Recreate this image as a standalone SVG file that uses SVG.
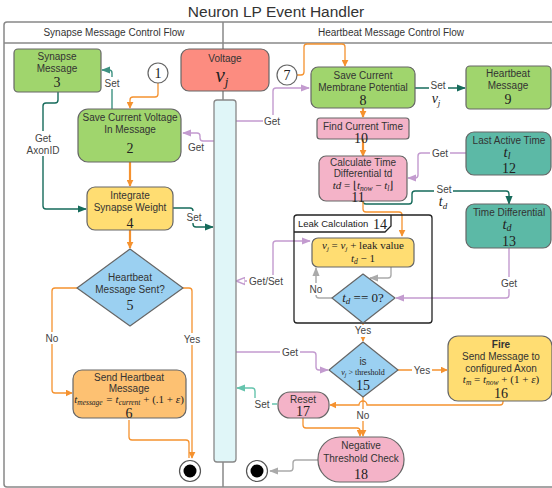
<svg xmlns="http://www.w3.org/2000/svg" width="552" height="488" viewBox="0 0 552 488">
<style>
.t{font-family:"Liberation Sans",Arial,sans-serif;font-size:10px;fill:#333;text-anchor:middle}
.m{font-family:"Liberation Serif","Times New Roman",serif;font-style:italic;fill:#222;text-anchor:middle}
.n{font-family:"Liberation Serif","Times New Roman",serif;font-size:14px;fill:#222;text-anchor:middle}
.lbl{font-family:"Liberation Sans",Arial,sans-serif;font-size:10px;fill:#444;text-anchor:middle}
.box{stroke:#666;stroke-width:1.2}
.o{fill:none;stroke:#f5922f;stroke-width:1.3}
.ot{fill:none;stroke:#f5922f;stroke-width:2.2}
.p{fill:none;stroke:#c39bcf;stroke-width:1.4}
.dt{fill:none;stroke:#166b5b;stroke-width:1.4}
.mt{fill:none;stroke:#3e9282;stroke-width:1.4}
.lt{fill:none;stroke:#66c4ad;stroke-width:1.4}
.g{fill:none;stroke:#aaa;stroke-width:1.4}
.bg{fill:#fff}
</style>
<defs>
<marker id="ao" viewBox="0 0 10 10" refX="9" refY="5" markerWidth="7" markerHeight="7" orient="auto-start-reverse" markerUnits="userSpaceOnUse"><path d="M0,0 L10,5 L0,10 z" fill="#f5922f"/></marker>
<marker id="ap" viewBox="0 0 10 10" refX="9" refY="5" markerWidth="9" markerHeight="9" orient="auto-start-reverse" markerUnits="userSpaceOnUse"><path d="M0,1 L10,5 L0,9 z" fill="#c39bcf"/></marker>
<marker id="aph" viewBox="0 0 10 10" refX="9" refY="5" markerWidth="9" markerHeight="9" orient="auto-start-reverse" markerUnits="userSpaceOnUse"><path d="M0,1 L10,5 L0,9 z" fill="#fff" stroke="#c39bcf" stroke-width="1.5"/></marker>
<marker id="adt" viewBox="0 0 10 10" refX="9" refY="5" markerWidth="9" markerHeight="9" orient="auto-start-reverse" markerUnits="userSpaceOnUse"><path d="M0,1 L10,5 L0,9 z" fill="#166b5b"/></marker>
<marker id="amt" viewBox="0 0 10 10" refX="9" refY="5" markerWidth="9" markerHeight="9" orient="auto-start-reverse" markerUnits="userSpaceOnUse"><path d="M0,1 L10,5 L0,9 z" fill="#3e9282"/></marker>
<marker id="alt" viewBox="0 0 10 10" refX="9" refY="5" markerWidth="9" markerHeight="9" orient="auto-start-reverse" markerUnits="userSpaceOnUse"><path d="M0,1 L10,5 L0,9 z" fill="#66c4ad"/></marker>
<marker id="ag" viewBox="0 0 10 10" refX="9" refY="5" markerWidth="9" markerHeight="9" orient="auto-start-reverse" markerUnits="userSpaceOnUse"><path d="M0,1 L10,5 L0,9 z" fill="#aaa"/></marker>
</defs>
<rect width="552" height="488" fill="#fff"/>
<text x="276" y="17" style="font-family:'Liberation Sans',Arial,sans-serif;font-size:15.5px;fill:#333;text-anchor:middle">Neuron LP Event Handler</text>
<g id="lanes" fill="none" stroke="#888" stroke-width="1.5">
<rect x="4" y="22" width="560" height="465" rx="3"/>
<line x1="4" y1="43" x2="552" y2="43"/>
<line x1="223" y1="22" x2="223" y2="487"/>
</g>
<text class="t" x="114" y="36">Synapse Message Control Flow</text>
<text class="t" x="391" y="36">Heartbeat Message Control Flow</text>

<g id="connectors">
<path class="dt" d="M58,92 V100 Q58,103 55,103 H46 Q43,103 43,106 V206 Q43,209 46,209 H86" marker-end="url(#adt)"/>
<rect class="bg" x="24" y="131" width="38" height="25"/>
<text class="lbl" x="43" y="142">Get</text>
<text class="lbl" x="43" y="154">AxonID</text>
<path class="mt" d="M112,109 V73 Q112,70 109,70 H102" marker-end="url(#amt)"/>
<rect class="bg" x="103" y="77" width="18" height="12"/>
<text class="lbl" x="112" y="87">Set</text>
<path class="o" d="M158,83 V94 Q158,97 155,97 H133 Q130,97 130,100 V108" marker-end="url(#ao)"/>
<path class="ot" d="M130,162 V186" marker-end="url(#ao)"/>
<path class="ot" d="M130,230 V248" marker-end="url(#ao)"/>
<path class="dt" d="M173,208 H190 Q193,208 193,211 V224 Q193,227 196,227 H213" marker-end="url(#adt)"/>
<rect class="bg" x="185" y="211" width="18" height="12"/>
<text class="lbl" x="194" y="221">Set</text>
<path class="p" d="M214,141 H203 Q200,141 200,138 V136 Q200,133 197,133 H183" marker-end="url(#ap)"/>
<text class="lbl" x="196" y="151">Get</text>
<path class="o" d="M77,288 H55 Q52,288 52,291 V390 Q52,393 55,393 H72" marker-end="url(#ao)"/>
<rect class="bg" x="44" y="332" width="16" height="12"/>
<text class="lbl" x="52" y="342">No</text>
<path class="o" d="M183,288 H189 Q192,288 192,291 V458" marker-end="url(#ao)"/>
<rect class="bg" x="183" y="333" width="18" height="12"/>
<text class="lbl" x="192" y="343">Yes</text>
<path class="o" d="M129,420 V437 Q129,440 132,440 H186 Q189,440 189,443 V458"/>
<path class="p" d="M236,121 H270 Q273,121 273,118 V91 Q273,88 276,88 H309" marker-end="url(#ap)"/>
<rect class="bg" x="263" y="115" width="20" height="12"/>
<text class="lbl" x="272" y="125">Get</text>
<path class="p" d="M237,281 H270 Q273,281 273,278 V244 Q273,241 276,241 H310" marker-start="url(#aph)" marker-end="url(#ap)"/>
<rect class="bg" x="247" y="275" width="38" height="12"/>
<text class="lbl" x="266" y="285">Get/Set</text>
<path class="p" d="M236,352 H313 Q316,352 316,355 V367 Q316,370 319,370 H328" marker-end="url(#ap)"/>
<rect class="bg" x="280" y="346" width="20" height="12"/>
<text class="lbl" x="290" y="356">Get</text>
<path class="lt" d="M277,404 H258 Q255,404 255,401 V391 Q255,388 252,388 H237" marker-end="url(#alt)"/>
<rect class="bg" x="252" y="398" width="20" height="12"/>
<text class="lbl" x="262" y="408">Set</text>
<path class="o" d="M297,75 H301 Q304,75 304,72 V47 Q304,44 307,44 H342 Q345,44 345,47 V66" marker-end="url(#ao)"/>
<path class="dt" d="M415,88 H465" marker-end="url(#adt)"/>
<rect class="bg" x="429" y="81" width="19" height="10"/>
<text class="lbl" x="438" y="89">Set</text>
<text class="m" x="436" y="103" font-size="14">v<tspan font-size="9" dy="3">j</tspan></text>
<path class="ot" d="M363,108 V117" marker-end="url(#ao)"/>
<path class="ot" d="M363,139 V156" marker-end="url(#ao)"/>
<path class="p" d="M466,153 H421 Q418,153 418,156 V175 Q418,178 415,178 H408" marker-end="url(#ap)"/>
<rect class="bg" x="430" y="147" width="20" height="12"/>
<text class="lbl" x="440" y="157">Get</text>
<path class="dt" d="M363,201 V201 Q363,204 366,204 H409 Q412,204 412,201 V194 Q412,191 415,191 H506 Q509,191 509,194 V204" marker-end="url(#adt)"/>
<rect class="bg" x="434" y="185" width="19" height="10"/>
<text class="lbl" x="444" y="193">Set</text>
<text class="m" x="443" y="206" font-size="14">t<tspan font-size="9" dy="3">d</tspan></text>
<path class="o" d="M363,201 V209 Q363,212 366,212 H399 Q402,212 402,215 V236" marker-end="url(#ao)"/>
<path class="p" d="M509,248 V295 Q509,298 506,298 H396" marker-end="url(#ap)"/>
<rect class="bg" x="499" y="277" width="20" height="12"/>
<text class="lbl" x="509" y="287">Get</text>
<path class="g" d="M391,267 V275 Q391,278 388,278 H370" marker-end="url(#ag)"/>
<path class="g" d="M332,298 H319 Q316,298 316,295 V268" marker-end="url(#ag)"/>
<rect class="bg" x="307" y="283" width="18" height="12"/>
<text class="lbl" x="316" y="293">No</text>
<path class="o" d="M363,323 V341" marker-end="url(#ao)"/>
<rect class="bg" x="353" y="325" width="20" height="12"/>
<text class="lbl" x="363" y="334">Yes</text>
<path class="o" d="M398,370 H447" marker-end="url(#ao)"/>
<rect class="bg" x="412" y="364" width="20" height="12"/>
<text class="lbl" x="422" y="374">Yes</text>
<path class="o" d="M503,401 V402 Q503,405 500,405 H367 A4,4 0 0 0 359,405 H330" marker-end="url(#ao)"/>
<path class="o" d="M363,397 V436" marker-end="url(#ao)"/>
<rect class="bg" x="354" y="409" width="18" height="12"/>
<text class="lbl" x="363" y="419">No</text>
<path class="o" d="M303,418 V425 Q303,428 306,428 H357 Q360,428 360,431 V436" marker-end="url(#ao)"/>
<path class="g" d="M318,460 H296 Q293,460 293,463 V468 Q293,471 290,471 H270" marker-end="url(#ag)"/>
</g>

<g id="bar"><rect x="214" y="100" width="22" height="362" rx="3" fill="#e0f6f8" stroke="#888" stroke-width="1.3"/></g>

<g id="voltage">
<rect class="box" x="181" y="49" width="88" height="42" rx="8" fill="#fc8c80"/>
<text class="t" x="225" y="62">Voltage</text>
<text class="m" x="222" y="82" font-size="21">v<tspan font-size="13" dy="4">j</tspan></text>
</g>
<g id="n3">
<rect class="box" x="14" y="49" width="87" height="43" rx="4" fill="#a0d56d"/>
<text class="t" x="57" y="60">Synapse</text>
<text class="t" x="57" y="72">Message</text>
<text class="n" x="57" y="87">3</text>
</g>
<g id="c1"><circle cx="158" cy="73" r="10" fill="#fff" stroke="#666" stroke-width="1.2"/><text class="n" x="158" y="78">1</text></g>
<g id="n2">
<rect class="box" x="78" y="109" width="103" height="53" rx="10" fill="#a0d56d"/>
<text class="t" x="130" y="121">Save Current Voltage</text>
<text class="t" x="130" y="133">In Message</text>
<text class="n" x="130" y="153">2</text>
</g>
<g id="n4">
<rect class="box" x="87" y="187" width="86" height="43" rx="8" fill="#ffdd72"/>
<text class="t" x="130" y="199">Integrate</text>
<text class="t" x="130" y="211">Synapse Weight</text>
<text class="n" x="130" y="228">4</text>
</g>
<g id="n5">
<path class="box" d="M130,249 L183,288 L130,326 L77,288 Z" fill="#9bd0f1" stroke-linejoin="round"/>
<text class="t" x="130" y="281">Heartbeat</text>
<text class="t" x="130" y="293">Message Sent?</text>
<text class="n" x="130" y="310">5</text>
</g>
<g id="n6">
<rect class="box" x="73" y="370" width="113" height="48" rx="9" fill="#fdc172"/>
<text class="t" x="129" y="381">Send Heartbeat</text>
<text class="t" x="129" y="392">Message</text>
<text class="m" x="129" y="403" font-size="11">t<tspan font-size="7.5" dy="1.5">message</tspan><tspan dy="-1.5"> = t</tspan><tspan font-size="7.5" dy="1.5">current</tspan><tspan dy="-1.5" font-style="normal"> + (.1 + </tspan>ε<tspan font-style="normal">)</tspan></text>
<text class="n" x="129" y="418">6</text>
</g>
<g id="end1"><circle cx="190" cy="471" r="10.5" fill="#fff" stroke="#555" stroke-width="1.2"/><circle cx="190" cy="471" r="6.5" fill="#000"/></g>
<g id="end2"><circle cx="257" cy="471" r="10.5" fill="#fff" stroke="#555" stroke-width="1.2"/><circle cx="257" cy="471" r="6.5" fill="#000"/></g>

<g id="c7"><circle cx="287" cy="75" r="10" fill="#fff" stroke="#666" stroke-width="1.2"/><text class="n" x="287" y="80">7</text></g>
<g id="n8">
<rect class="box" x="311" y="67" width="104" height="41" rx="7" fill="#a0d56d"/>
<text class="t" x="363" y="79">Save Current</text>
<text class="t" x="363" y="91">Membrane Potential</text>
<text class="n" x="363" y="105">8</text>
</g>
<g id="n9">
<rect class="box" x="466" y="66" width="85" height="43" rx="4" fill="#a0d56d"/>
<text class="t" x="508" y="77">Heartbeat</text>
<text class="t" x="508" y="89">Message</text>
<text class="n" x="508" y="104">9</text>
</g>
<g id="n10">
<rect class="box" x="317" y="118" width="92" height="21" rx="3" fill="#f4b3c8"/>
<text class="t" x="363" y="130">Find Current Time</text>
<text class="n" x="361" y="143">10</text>
</g>
<g id="n11">
<rect class="box" x="319" y="156" width="88" height="45" rx="7" fill="#f4b3c8"/>
<text class="t" x="363" y="166">Calculate Time</text>
<text class="t" x="363" y="177">Differential td</text>
<text class="m" x="363" y="189" font-size="11">td<tspan font-style="normal"> = ⌊</tspan>t<tspan font-size="7.5" dy="2">now</tspan><tspan dy="-2" font-style="normal"> − </tspan>t<tspan font-size="7.5" dy="2">l</tspan><tspan dy="-2" font-style="normal">⌋</tspan></text>
<text class="n" x="358" y="202">11</text>
</g>
<g id="n12">
<rect class="box" x="466" y="132" width="85" height="43" rx="8" fill="#5cb9a6"/>
<text class="t" x="509" y="144">Last Active Time</text>
<text class="m" x="507" y="157" font-size="15">t<tspan font-size="10" dy="2">l</tspan></text>
<text class="n" x="509" y="173">12</text>
</g>
<g id="n13">
<rect class="box" x="466" y="204" width="85" height="44" rx="8" fill="#5cb9a6"/>
<text class="t" x="509" y="216">Time Differential</text>
<text class="m" x="507" y="229" font-size="15">t<tspan font-size="10" dy="2">d</tspan></text>
<text class="n" x="509" y="246">13</text>
</g>
<g id="n14">
<rect x="294" y="215" width="138" height="108" rx="3" fill="none" stroke="#222" stroke-width="1.3"/>
<path d="M294,232 H385 L391,226 V215" fill="none" stroke="#222" stroke-width="1.3"/>
<text x="298" y="227" style="font-family:'Liberation Sans',Arial,sans-serif;font-size:9.5px;fill:#222">Leak Calculation</text>
<text class="n" x="380" y="229">14</text>
</g>
<g id="leak">
<rect class="box" x="312" y="238" width="102" height="29" rx="6" fill="#ffdd72"/>
<text class="m" x="363" y="249" font-size="11">v<tspan font-size="7" dy="2">j</tspan><tspan dy="-2" font-style="normal"> = </tspan>v<tspan font-size="7" dy="2">j</tspan><tspan dy="-2" font-style="normal"> + leak value</tspan></text>
<text class="m" x="363" y="262" font-size="11">t<tspan font-size="7.5" dy="2">d</tspan><tspan dy="-2" font-style="normal"> − 1</tspan></text>
</g>
<g id="tdzero">
<path class="box" d="M363,274 L395,298 L363,323 L332,298 Z" fill="#9bd0f1" stroke="#222" stroke-linejoin="round"/>
<text class="m" x="363" y="302" font-size="13">t<tspan font-size="9" dy="2">d</tspan><tspan dy="-2" font-style="normal"> == 0?</tspan></text>
</g>
<g id="n15">
<path class="box" d="M363,342 L398,370 L363,397 L329,370 Z" fill="#9bd0f1" stroke-linejoin="round"/>
<text class="t" x="363" y="365">is</text>
<text class="m" x="363" y="375" font-size="8">v<tspan font-size="6" dy="1.5">j</tspan><tspan dy="-1.5" font-style="normal"> &gt; threshold</tspan></text>
<text class="n" x="363" y="390">15</text>
</g>
<g id="n16">
<rect class="box" x="448" y="336" width="104" height="65" rx="10" fill="#ffdd72"/>
<text class="t" x="501" y="348" font-weight="bold">Fire</text>
<text class="t" x="501" y="360">Send Message to</text>
<text class="t" x="501" y="372">configured Axon</text>
<text class="m" x="501" y="383" font-size="11">t<tspan font-size="7.5" dy="2">m</tspan><tspan dy="-2" font-style="normal"> = </tspan>t<tspan font-size="7.5" dy="2">now</tspan><tspan dy="-2" font-style="normal"> + (1 + </tspan>ε<tspan font-style="normal">)</tspan></text>
<text class="n" x="501" y="398">16</text>
</g>
<g id="n17">
<rect class="box" x="278" y="392" width="51" height="26" rx="12" fill="#f4b3c8"/>
<text class="t" x="303" y="403">Reset</text>
<text class="n" x="303" y="416">17</text>
</g>
<g id="n18">
<rect class="box" x="318" y="437" width="86" height="45" rx="22" fill="#f4b3c8"/>
<text class="t" x="361" y="449">Negative</text>
<text class="t" x="361" y="462">Threshold Check</text>
<text class="n" x="361" y="479">18</text>
</g>
</svg>
